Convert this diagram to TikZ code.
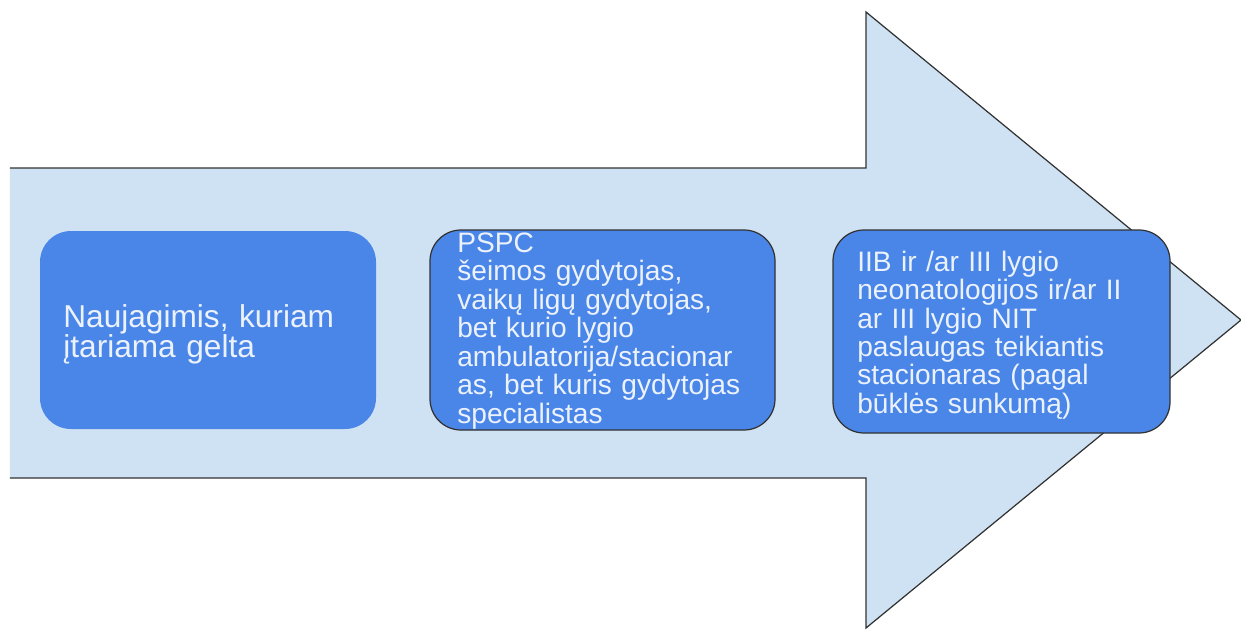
\documentclass[tikz,border=0pt]{standalone}
\usepackage{fontspec}
\setmainfont{Liberation Sans}
\definecolor{arrowblue}{RGB}{207, 226, 243}
\definecolor{stageblue}{RGB}{74, 134, 232}
\definecolor{stagetext}{RGB}{236, 242, 252}
\definecolor{edgegray}{RGB}{50, 50, 50}
\usetikzlibrary{positioning}
\tikzset{
  stagebox/.style={fill=stageblue, rounded corners=0.62cm, text=stagetext, align=left, inner xsep=0cm, inner ysep=0cm},
  stageedge/.style={draw=edgegray, line width=0.7pt}
}

\begin{document}
\begin{tikzpicture}
  \useasboundingbox (0,0) rectangle (24.82,12.6);

  % Big arrow
  \fill[arrowblue] (0.2,9.24) -- (17.32,9.24) -- (17.32,12.36) -- (24.82,6.2) -- (17.32,0.04) -- (17.32,3.04) -- (0.2,3.04) -- cycle;
  \draw[edgegray, line width=0.7pt] (0.2,9.24) -- (17.32,9.24) -- (17.32,12.36) -- (24.82,6.2) -- (17.32,0.04) -- (17.32,3.04) -- (0.2,3.04);

  % Stages
  \node[stagebox, minimum width=6.72cm, minimum height=3.96cm] (newborn) at (4.16,6.0) {};
  \node[stagebox, fill=none, text width=6.0cm, font=\fontsize{18}{17}\selectfont, anchor=west] (newborntext) at (1.26,5.91) {Naujagimis, kuriam\\įtariama gelta};

  \node[stagebox, stageedge, minimum width=6.9cm, minimum height=4.0cm] (primary) at (12.05,6.0) {};
  \node[stagebox, fill=none, text width=6.2cm, font=\fontsize{16}{16.2}\selectfont, anchor=west] (primarytext) at (9.14,5.98) {PSPC\\šeimos gydytojas,\\vaikų ligų gydytojas,\\bet kurio lygio\\ambulatorija/stacionar\\as, bet kuris gydytojas\\specialistas};

  \node[stagebox, stageedge, minimum width=6.74cm, minimum height=4.06cm] (hospital) at (20.03,5.97) {};
  \node[stagebox, fill=none, text width=6.0cm, font=\fontsize{16}{16.2}\selectfont, anchor=west] (hospitaltext) at (17.14,5.9) {IIB ir /ar III lygio\\neonatologijos ir/ar II\\ar III lygio NIT\\paslaugas teikiantis\\stacionaras (pagal\\būklės sunkumą)};
\end{tikzpicture}
\end{document}
